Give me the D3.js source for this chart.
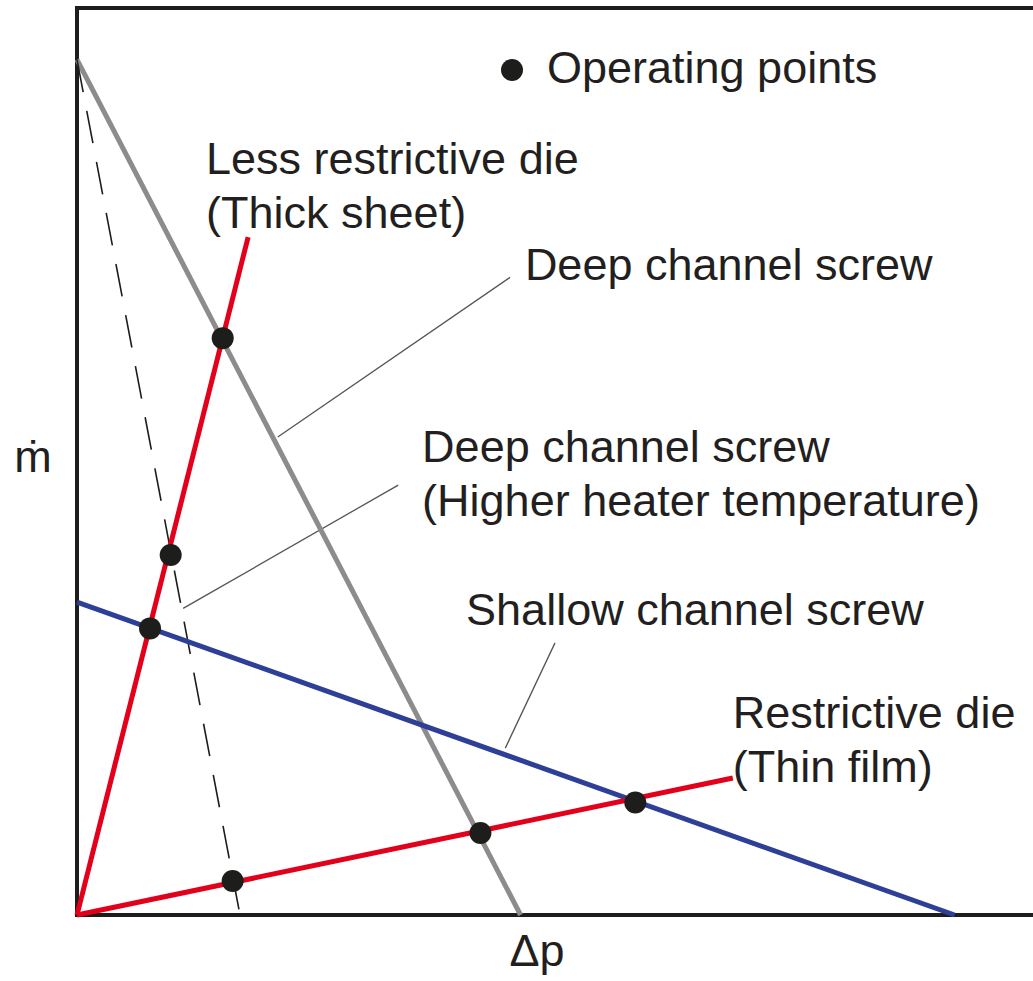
<!DOCTYPE html>
<html>
<head>
<meta charset="utf-8">
<script src="https://cdn.jsdelivr.net/npm/d3@7"></script>
<style>
  html, body { margin: 0; padding: 0; background: #fff; }
  svg { display: block; }
  text { font-family: "Liberation Sans", Arial, Helvetica, sans-serif; fill: #231f20; }
</style>
</head>
<body>
<svg id="chart" width="1033" height="981"></svg>
<script>
// Screw characteristics: straight lines from (0, mdotMax) to (dpMax, 0)
const screwNames   = ["Deep channel screw", "Deep channel screw (higher heater temperature)", "Shallow channel screw"];
const screwMdotMax = [94.3, 94.3, 34.5];
const screwDpMax   = [46.4, 17.05, 91.8];

// Die characteristics: straight lines from the origin to (dpEnd, mdotEnd)
const dieNames   = ["Less restrictive die (thick sheet)", "Restrictive die (thin film)"];
const dieDpEnd   = [17.9, 68.6];
const dieMdotEnd = [74.75, 15.1];

// Operating points (Δp, ṁ)
const opDp   = [15.24, 9.80, 7.64, 16.28, 42.2, 58.4];
const opMdot = [63.6, 39.7, 31.6, 3.75, 9.04, 12.4];

// Callout labels: text lines, anchor (Δp, ṁ) of first baseline
const labelLines = [["Less restrictive die", "(Thick sheet)"], ["Deep channel screw"],
                    ["Deep channel screw", "(Higher heater temperature)"], ["Shallow channel screw"],
                    ["Restrictive die", "(Thin film)"]];
const labelDp   = [13.5, 46.85, 36.1, 40.7, 68.6];
const labelMdot = [81.7, 70.0, 49.9, 32.0, 20.6];

// Leader lines from labels to curves: [Δp1, ṁ1, Δp2, ṁ2]
const leaders = [[45.3, 70.3, 21.0, 52.7], [33.6, 47.4, 11.1, 33.8], [50.0, 30.0, 44.8, 18.4]];

const svg = d3.select("#chart");
const W = 1033, H = 981;
const margin = { left: 77, top: 8, bottom: 66 };
const x = d3.scaleLinear().domain([0, 100]).range([margin.left, W]);
const y = d3.scaleLinear().domain([0, 100]).range([H - margin.bottom, margin.top]);
const line = d3.line().x(d => x(d[0])).y(d => y(d[1]));

const colors = { gray: "#8c8c8c", red: "#e2001a", blue: "#2e3f97", ink: "#1d1d1b" };

// Frame (right edge continues past the visible area)
svg.append("path")
  .attr("d", `M${W + 10},${y(100)} H${x(0)} V${y(0)} H${W + 10}`)
  .attr("fill", "none").attr("stroke", colors.ink).attr("stroke-width", 4);

// Leader lines
svg.selectAll(".leader").data(leaders).join("line")
  .attr("class", "leader")
  .attr("x1", d => x(d[0])).attr("y1", d => y(d[1]))
  .attr("x2", d => x(d[2])).attr("y2", d => y(d[3]))
  .attr("stroke", "#555").attr("stroke-width", 1.3);

// Screw lines
const screwStyles = [
  { stroke: colors.gray, width: 5, dash: null },
  { stroke: colors.ink, width: 1.6, dash: "33,19" },
  { stroke: colors.blue, width: 5, dash: null }
];
screwNames.forEach((n, i) => {
  const s = screwStyles[i];
  svg.append("path")
    .datum([[0, screwMdotMax[i]], [screwDpMax[i], 0]])
    .attr("d", line)
    .attr("fill", "none")
    .attr("stroke", s.stroke)
    .attr("stroke-width", s.width)
    .attr("stroke-dasharray", s.dash);
});

// Die lines
dieNames.forEach((n, i) => {
  svg.append("path")
    .datum([[0, 0], [dieDpEnd[i], dieMdotEnd[i]]])
    .attr("d", line)
    .attr("fill", "none")
    .attr("stroke", colors.red)
    .attr("stroke-width", 5);
});

// Operating points
svg.selectAll(".op").data(d3.range(opDp.length)).join("circle")
  .attr("class", "op")
  .attr("cx", i => x(opDp[i])).attr("cy", i => y(opMdot[i]))
  .attr("r", 11).attr("fill", colors.ink);

// Legend
svg.append("circle").attr("cx", 512).attr("cy", 70).attr("r", 11).attr("fill", colors.ink);
svg.append("text").attr("x", 547).attr("y", 83).attr("font-size", 45).text("Operating points");

// Callout labels
labelLines.forEach((lines, i) => {
  const t = svg.append("text")
    .attr("x", x(labelDp[i])).attr("y", y(labelMdot[i]))
    .attr("font-size", 45);
  lines.forEach((s, k) => {
    t.append("tspan").attr("x", x(labelDp[i])).attr("dy", k === 0 ? 0 : 54).text(s);
  });
});

// Axis titles
svg.append("text").attr("x", 33).attr("y", 472).attr("text-anchor", "middle")
  .attr("font-size", 45).text("ṁ");
svg.append("text").attr("x", 537).attr("y", 966).attr("text-anchor", "middle")
  .attr("font-size", 45).text("Δp");
</script>
</body>
</html>
